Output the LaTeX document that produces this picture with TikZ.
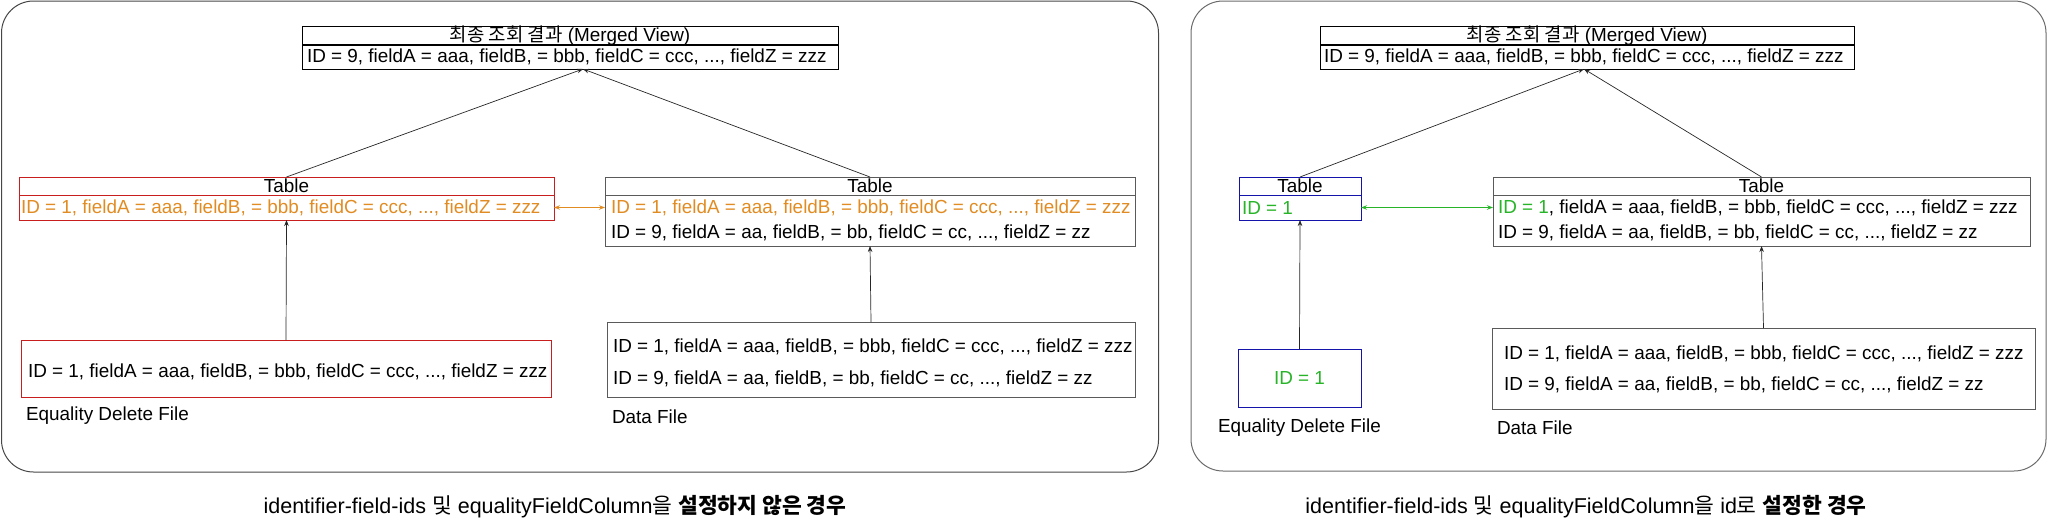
\documentclass[tikz,border=0pt]{standalone}
\usepackage{fontspec}
\setmainfont{Liberation Sans}
\newfontfamily\ko{Noto Sans CJK KR}
\usetikzlibrary{arrows.meta}
\definecolor{redb}{RGB}{200,30,30}
\definecolor{orangeT}{RGB}{225,140,35}
\definecolor{greenT}{RGB}{40,180,40}
\definecolor{blueb}{RGB}{20,20,170}
\definecolor{framec}{RGB}{70,70,70}
\definecolor{boxc}{RGB}{90,90,90}
\begin{document}
\begin{tikzpicture}[x=1pt,y=-1pt,
  every node/.style={font=\fontsize{18.9}{22}\selectfont, inner sep=0pt, outer sep=0pt},
  cell/.style={draw=black, line width=0.8pt, rectangle, anchor=north west},
  hid/.style={rectangle, anchor=north west},
  txt/.style={anchor=west},
  container/.style={draw=framec, line width=1pt, rounded corners=32pt, rectangle, anchor=north west},
  conn/.style={draw=black!85, line width=0.7pt, -{Stealth[length=6pt,width=4.5pt]}},
  dconn/.style={line width=1pt, {Stealth[length=6pt,width=4.5pt]}-{Stealth[length=6pt,width=4.5pt]}},
  ttl/.style={font=\fontsize{21.5}{25}\selectfont}
]
\useasboundingbox (0,0) rectangle (2048,523);

% containers
\node[container, minimum width=1157pt, minimum height=471pt] (lp) at (1.5,1) {};
\node[container, draw=framec!80, minimum width=855pt, minimum height=470pt] (rp) at (1191,1) {};

% ===== left panel =====
\node[cell, minimum width=536pt, minimum height=18pt] (lmh) at (302,26) {{\ko 최종 조회 결과} (Merged View)};
\node[cell, minimum width=536pt, minimum height=25pt] (lmr) at (302,44) {};
\node[txt] (lmt) at ([xshift=5pt]lmr.west) {ID = 9, fieldA = aaa, fieldB, = bbb, fieldC = ccc, ..., fieldZ = zzz};
\coordinate (ltip) at ([xshift=13pt]lmr.south);

\node[cell, draw=redb, minimum width=535pt, minimum height=18pt] (lth) at (19,177) {Table};
\node[cell, draw=redb, minimum width=535pt, minimum height=25pt] (ltr) at (19,195) {};
\node[txt, text=orangeT] (ltt) at ([xshift=2pt]ltr.west) {ID = 1, fieldA = aaa, fieldB, = bbb, fieldC = ccc, ..., fieldZ = zzz};

\node[cell, draw=boxc, minimum width=530pt, minimum height=18pt] (rth) at (605,177) {Table};
\node[cell, draw=boxc, minimum width=530pt, minimum height=51pt] (rtb) at (605,195) {};
\node[hid, minimum width=530pt, minimum height=25pt] (rtr1) at (605,195) {};
\node[hid, minimum width=530pt, minimum height=26pt] (rtr2) at (605,220) {};
\node[txt, text=orangeT] (rtt1) at ([xshift=6pt]rtr1.west) {ID = 1, fieldA = aaa, fieldB, = bbb, fieldC = ccc, ..., fieldZ = zzz};
\node[txt] (rtt2) at ([xshift=6pt]rtr2.west) {ID = 9, fieldA = aa, fieldB, = bb, fieldC = cc, ..., fieldZ = zz};

\node[cell, draw=redb, minimum width=530pt, minimum height=57pt] (leq) at (21,340) {};
\node[txt] (leqt) at ([xshift=7pt,yshift=-3pt]leq.west) {ID = 1, fieldA = aaa, fieldB, = bbb, fieldC = ccc, ..., fieldZ = zzz};
\node[txt] (leql) at (26,416) {Equality Delete File};

\node[cell, draw=boxc, minimum width=528pt, minimum height=75pt] (ldf) at (607,322) {};
\node[txt] (ldf1) at (613,347) {ID = 1, fieldA = aaa, fieldB, = bbb, fieldC = ccc, ..., fieldZ = zzz};
\node[txt] (ldf2) at (613,379) {ID = 9, fieldA = aa, fieldB, = bb, fieldC = cc, ..., fieldZ = zz};
\node[txt] (ldfl) at (612,417) {Data File};

\draw[conn] (lth.north) -- (ltip);
\draw[conn] (rth.north) -- (ltip);
\draw[conn] (leq.north) -- (ltr.south);
\draw[conn] (ldf.north) -- (rtb.south);
\draw[dconn, orangeT] (ltr.east) -- (rtr1.west);

\node[ttl] (lttl) at (555,507) {identifier-field-ids {\ko 및} equalityFieldColumn{\ko 을} {\ko\bfseries 설정하지 않은 경우}};

% ===== right panel =====
\node[cell, minimum width=534pt, minimum height=18pt] (rmh) at (1320,26) {{\ko 최종 조회 결과} (Merged View)};
\node[cell, minimum width=534pt, minimum height=25pt] (rmr) at (1320,44) {};
\node[txt] (rmt) at ([xshift=4pt]rmr.west) {ID = 9, fieldA = aaa, fieldB, = bbb, fieldC = ccc, ..., fieldZ = zzz};
\coordinate (rtip) at ([xshift=-3pt]rmr.south);

\node[cell, draw=blueb, minimum width=122pt, minimum height=18pt] (bth) at (1239,177) {Table};
\node[cell, draw=blueb, minimum width=122pt, minimum height=25pt] (btr) at (1239,195) {};
\node[txt, text=greenT] (btt) at ([xshift=3pt]btr.west) {ID = 1};

\node[cell, draw=boxc, minimum width=537pt, minimum height=18pt] (gth) at (1493,177) {Table};
\node[cell, draw=boxc, minimum width=537pt, minimum height=51pt] (gtb) at (1493,195) {};
\node[hid, minimum width=537pt, minimum height=25pt] (gtr1) at (1493,195) {};
\node[hid, minimum width=537pt, minimum height=26pt] (gtr2) at (1493,220) {};
\node[txt] (gtt1) at ([xshift=5pt]gtr1.west) {\textcolor{greenT}{ID = 1}, fieldA = aaa, fieldB, = bbb, fieldC = ccc, ..., fieldZ = zzz};
\node[txt] (gtt2) at ([xshift=5pt]gtr2.west) {ID = 9, fieldA = aa, fieldB, = bb, fieldC = cc, ..., fieldZ = zz};

\node[cell, draw=blueb, minimum width=123pt, minimum height=58pt, text=greenT] (beq) at (1238,349) {ID = 1};
\node[txt] (beql) at (1218,428) {Equality Delete File};

\node[cell, draw=boxc, minimum width=543pt, minimum height=81pt] (rdf) at (1492,328) {};
\node[txt] (rdf1) at (1504,354) {ID = 1, fieldA = aaa, fieldB, = bbb, fieldC = ccc, ..., fieldZ = zzz};
\node[txt] (rdf2) at (1504,385) {ID = 9, fieldA = aa, fieldB, = bb, fieldC = cc, ..., fieldZ = zz};
\node[txt] (rdfl) at (1497,428) {Data File};

\draw[conn] (bth.north) -- (rtip);
\draw[conn] (gth.north) -- (rtip);
\draw[conn] (beq.north) -- (btr.south);
\draw[conn] (rdf.north) -- (gtb.south);
\draw[dconn, greenT] (btr.east) -- (gtr1.west);

\node[ttl] (rttl) at (1586,507) {identifier-field-ids {\ko 및} equalityFieldColumn{\ko 을} id{\ko 로} {\ko\bfseries 설정한 경우}};
\end{tikzpicture}
\end{document}
